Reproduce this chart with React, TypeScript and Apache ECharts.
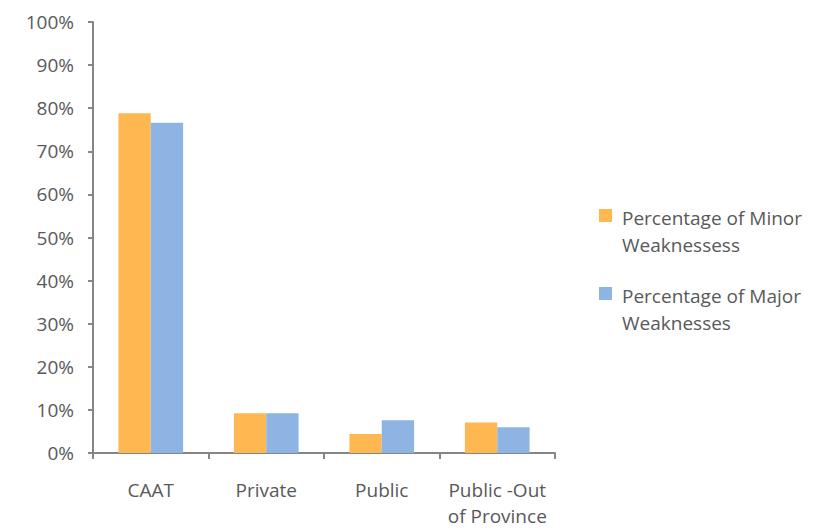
import React, { useEffect, useRef } from "react";
import * as echarts from "echarts";

const categories = ["CAAT", "Private", "Public", "Public -Out\nof Province"];
const minorValues = [78.8, 9.2, 4.4, 7.1];
const majorValues = [76.6, 9.2, 7.6, 6.0];
const seriesNames = ["Percentage of Minor\nWeaknessess", "Percentage of Major\nWeaknesses"];
const seriesColors = ["#FFB851", "#8EB4E3"];
const yTicks = [0, 10, 20, 30, 40, 50, 60, 70, 80, 90, 100];

export default function App() {
  const ref = useRef<HTMLDivElement>(null);
  useEffect(() => {
    const chart = echarts.init(ref.current!, null, { renderer: "svg" });
    const font = "'Open Sans', Lato, sans-serif";
    const legendGraphics: any[] = [];
    seriesNames.forEach((name, i) => {
      legendGraphics.push({
        type: "rect",
        left: 599,
        top: 209 + 78 * i,
        shape: { width: 13, height: 13 },
        style: { fill: seriesColors[i] },
      });
      legendGraphics.push({
        type: "text",
        left: 622,
        top: 204 + 78 * i,
        style: {
          text: name,
          fill: "#595959",
          fontSize: 19,
          lineHeight: 27,
          fontFamily: font,
        },
      });
    });
    chart.setOption({
      animation: false,
      textStyle: { fontFamily: font },
      grid: { left: 93, right: 268, top: 22, bottom: 75, containLabel: false, outerBoundsMode: "none" },
      legend: { show: false },
      graphic: legendGraphics,
      xAxis: {
        type: "category",
        data: categories,
        axisLine: { lineStyle: { color: "#868686", width: 2 } },
        axisTick: { show: true, length: 6, lineStyle: { color: "#868686", width: 2 } },
        axisLabel: { fontSize: 19, color: "#595959", margin: 24, lineHeight: 26, interval: 0, fontFamily: font },
      },
      yAxis: {
        type: "value",
        min: 0,
        max: 100,
        interval: 10,
        splitLine: { show: false },
        axisLine: { show: true, lineStyle: { color: "#868686", width: 2 } },
        axisTick: { show: true, length: 5, lineStyle: { color: "#868686", width: 2 } },
        axisLabel: {
          fontSize: 19,
          color: "#595959",
          margin: 19,
          padding: [5, 0, 0, 0],
          fontFamily: font,
          formatter: (v: number) => (yTicks.includes(v) ? v + "%" : ""),
        },
      },
      series: [
        {
          name: seriesNames[0],
          type: "bar",
          data: minorValues,
          barGap: "0%",
          barCategoryGap: "44%",
          itemStyle: { color: seriesColors[0] },
        },
        {
          name: seriesNames[1],
          type: "bar",
          data: majorValues,
          barGap: "0%",
          barCategoryGap: "44%",
          itemStyle: { color: seriesColors[1] },
        },
      ],
    });
    return () => chart.dispose();
  }, []);
  return <div ref={ref} style={{ width: 823, height: 528, position: "absolute", left: 0, top: 0 }} />;
}
